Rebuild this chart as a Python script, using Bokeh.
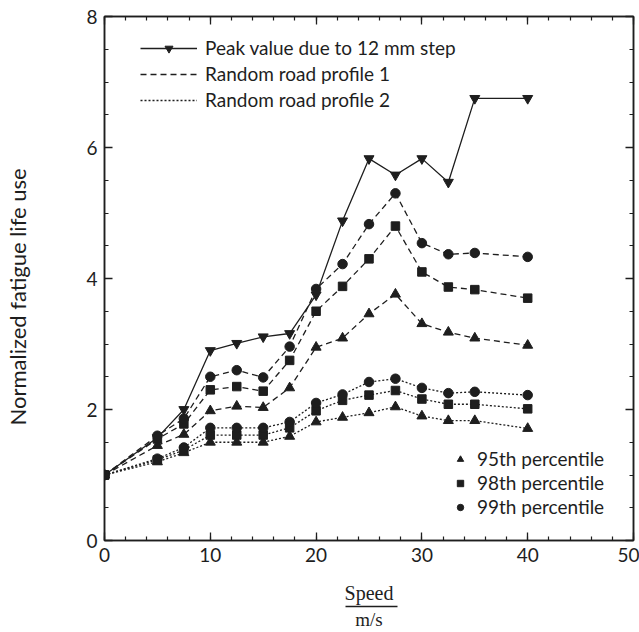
from bokeh.plotting import figure
from bokeh.models import (LinearAxis, FixedTicker, Legend, LegendItem, Range1d, ColumnDataSource, Title)
from bokeh.embed import file_html
from bokeh.resources import INLINE

# ---------------- data ----------------
speed = [0, 5, 7.5, 10, 12.5, 15, 17.5, 20, 22.5, 25, 27.5, 30, 32.5, 35, 40]

peak_12mm = [1.0, 1.57, 2.0, 2.9, 3.01, 3.11, 3.16, 3.75, 4.88, 5.83, 5.58, 5.83, 5.47, 6.75, 6.75]

road1_p95 = [1.0, 1.45, 1.62, 1.98, 2.05, 2.03, 2.33, 2.95, 3.09, 3.46, 3.76, 3.31, 3.18, 3.09, 2.98]
road1_p98 = [1.0, 1.55, 1.78, 2.30, 2.35, 2.28, 2.75, 3.50, 3.88, 4.30, 4.80, 4.10, 3.87, 3.83, 3.70]
road1_p99 = [1.0, 1.60, 1.86, 2.50, 2.60, 2.49, 2.96, 3.84, 4.22, 4.83, 5.30, 4.54, 4.37, 4.39, 4.33]

road2_p95 = [1.0, 1.20, 1.34, 1.50, 1.50, 1.50, 1.59, 1.81, 1.88, 1.95, 2.04, 1.90, 1.83, 1.83, 1.71]
road2_p98 = [1.0, 1.23, 1.38, 1.61, 1.61, 1.61, 1.72, 1.98, 2.14, 2.22, 2.29, 2.16, 2.08, 2.08, 2.01]
road2_p99 = [1.0, 1.25, 1.42, 1.72, 1.72, 1.72, 1.81, 2.10, 2.23, 2.42, 2.47, 2.33, 2.25, 2.27, 2.22]

x_ticks = [0, 10, 20, 30, 40, 50]
x_minor = [v for v in range(0, 51, 2)]
y_ticks = [0, 2, 4, 6, 8]
y_minor = [v * 0.5 for v in range(0, 17)]

legend_lines = ["Peak value due to 12 mm step", "Random road profile 1", "Random road profile 2"]
legend_marks = ["95th percentile", "98th percentile", "99th percentile"]

x_title = "Speed"
x_unit = "m/s"
y_title = "Normalized fatigue life use"

# ---------------- styling ----------------
INK = "#1e1e1e"
FONT = "Lato"
SERIF = "Liberation Serif"

p = figure(width=639, height=632, x_range=Range1d(0, 50), y_range=Range1d(0, 8),
           output_backend="svg", toolbar_location=None,
           x_axis_location=None, y_axis_location=None,
           min_border_left=104, min_border_right=6, min_border_top=16, min_border_bottom=92)
p.xgrid.visible = False
p.ygrid.visible = False
p.outline_line_color = INK
p.outline_line_width = 1.5
p.background_fill_color = "white"
p.border_fill_color = "white"


def style_axis(ax, labels=True):
    ax.axis_line_color = INK
    ax.axis_line_width = 1.5
    ax.major_tick_in = 8
    ax.major_tick_out = 0
    ax.minor_tick_in = 4
    ax.minor_tick_out = 0
    ax.major_tick_line_color = INK
    ax.minor_tick_line_color = INK
    ax.major_tick_line_width = 1.3
    ax.minor_tick_line_width = 1.2
    if labels:
        ax.major_label_text_font = FONT
        ax.major_label_text_font_size = "19px"
        ax.major_label_text_color = INK
        ax.major_label_standoff = 7
    else:
        ticks = ax.ticker.ticks
        ax.major_label_overrides = {t: "" for t in ticks}
        ax.major_label_standoff = 0


xb = LinearAxis(ticker=FixedTicker(ticks=x_ticks, minor_ticks=x_minor), axis_label=x_title)
style_axis(xb)
xb.axis_label_text_font = SERIF
xb.axis_label_text_font_size = "20px"
xb.axis_label_text_font_style = "normal"
xb.axis_label_text_color = INK
xb.axis_label_standoff = 17

# second "axis" only carries the fraction bar and the unit
xu = LinearAxis(ticker=FixedTicker(ticks=[]), bounds=(22.8, 27.7), axis_label=x_unit)
xu.major_tick_line_color = None
xu.minor_tick_line_color = None
xu.major_label_standoff = 0
xu.axis_label_text_font = SERIF
xu.axis_label_text_font_size = "19px"
xu.axis_label_text_font_style = "normal"
xu.axis_label_text_color = INK
xu.axis_label_standoff = 2
xu.axis_line_color = INK
xu.axis_line_width = 1.3

xa = LinearAxis(ticker=FixedTicker(ticks=x_ticks, minor_ticks=x_minor))
style_axis(xa, labels=False)

yl = LinearAxis(ticker=FixedTicker(ticks=y_ticks, minor_ticks=y_minor))
style_axis(yl)

# invisible spacer axis so the y title sits near the page edge
ypad = LinearAxis(ticker=FixedTicker(ticks=[0], minor_ticks=[]))
ypad.axis_line_color = None
ypad.major_tick_line_color = None
ypad.minor_tick_line_color = None
ypad.major_tick_in = 0
ypad.major_tick_out = 52
ypad.major_label_overrides = {0: ""}
ypad.major_label_standoff = 0

yr = LinearAxis(ticker=FixedTicker(ticks=y_ticks, minor_ticks=y_minor))
style_axis(yr, labels=False)

p.add_layout(xb, "below")
p.add_layout(xu, "below")
p.add_layout(xa, "above")
p.add_layout(yl, "left")
p.add_layout(ypad, "left")
p.add_layout(yr, "right")

# y title, placed a little below the frame centre as in the reference
yt = Title(text=y_title, align="left", offset=115, standoff=2,
           text_font=FONT, text_font_size="22px", text_font_style="normal", text_color=INK)
p.add_layout(yt, "left")

src = ColumnDataSource(dict(x=speed, peak=peak_12mm,
                            r1a=road1_p95, r1b=road1_p98, r1c=road1_p99,
                            r2a=road2_p95, r2b=road2_p98, r2c=road2_p99))

LW = 1.3
pk_line = p.line("x", "peak", source=src, line_color=INK, line_width=LW)
pk_sc = p.scatter("x", "peak", source=src, marker="inverted_triangle", size=10,
                  fill_color=INK, line_color=INK)

DASH = "6 4"
DOT = "2 2"
marks = [("triangle", 10), ("square", 8.5), ("circle", 9.5)]

r1_lines, r1_scs = [], []
for col, (mk, sz) in zip(["r1a", "r1b", "r1c"], marks):
    r1_lines.append(p.line("x", col, source=src, line_color=INK, line_width=LW, line_dash=DASH))
    r1_scs.append(p.scatter("x", col, source=src, marker=mk, size=sz, fill_color=INK, line_color=INK))

r2_lines, r2_scs = [], []
for col, (mk, sz) in zip(["r2a", "r2b", "r2c"], marks):
    r2_lines.append(p.line("x", col, source=src, line_color=INK, line_width=LW, line_dash=DOT))
    r2_scs.append(p.scatter("x", col, source=src, marker=mk, size=sz, fill_color=INK, line_color=INK))


def style_legend(lg):
    lg.border_line_color = None
    lg.background_fill_alpha = 0
    lg.padding = 0
    lg.margin = 0
    lg.label_text_font = FONT
    lg.label_text_font_size = "19px"
    lg.label_text_color = INK
    lg.glyph_height = 20
    lg.label_height = 20


leg1 = Legend(items=[LegendItem(label=legend_lines[0], renderers=[pk_line, pk_sc]),
                     LegendItem(label=legend_lines[1], renderers=[r1_lines[0]]),
                     LegendItem(label=legend_lines[2], renderers=[r2_lines[0]])],
              location=(36, 429))
style_legend(leg1)
leg1.glyph_width = 57
leg1.label_standoff = 8
leg1.spacing = 3
p.add_layout(leg1)

leg2 = Legend(items=[LegendItem(label=legend_marks[i], renderers=[r1_scs[i]]) for i in range(3)],
              location=(348, 22))
style_legend(leg2)
leg2.glyph_width = 16
leg2.label_standoff = 9
leg2.spacing = 1
p.add_layout(leg2)

open("out.html", "w").write(file_html(p, INLINE))
